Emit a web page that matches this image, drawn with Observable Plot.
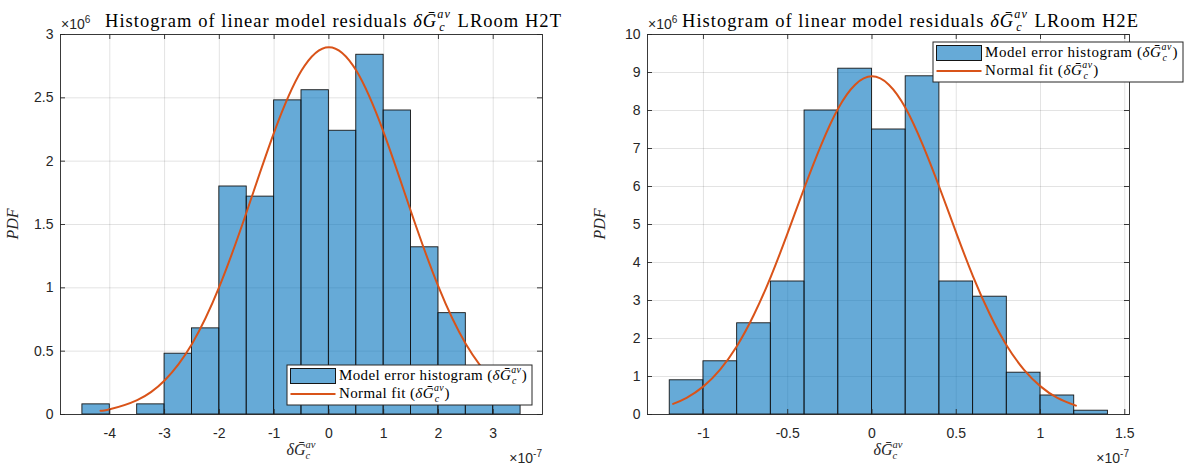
<!DOCTYPE html>
<html><head><meta charset="utf-8">
<script src="https://cdn.jsdelivr.net/npm/d3@7"></script>
<script src="https://cdn.jsdelivr.net/npm/@observablehq/plot@0.6"></script>
<style>
body{margin:0;background:#fff;}
#wrap{position:relative;width:1185px;height:466px;overflow:hidden;background:#fff;}
#wrap svg{position:absolute;top:0;overflow:visible;}
</style></head><body><div id="wrap"></div>
<script>
// ---------- data (x in units of 1e-7, pdf in units of 1e6) ----------
const h2tBinEdges = [-4.5,-4,-3.5,-3,-2.5,-2,-1.5,-1,-0.5,0,0.5,1,1.5,2,2.5,3,3.5];
const h2tPdf      = [0.08,0,0.08,0.48,0.68,1.80,1.72,2.48,2.56,2.24,2.84,2.40,1.32,0.80,0.32,0.20];
const h2tFitX     = [-4.17,-4,-3.5,-3,-2.5,-2,-1.5,-1,-0.5,0,0.5,1,1.5,2,2.5,3,3.4];
const h2tFitY     = [0.029,0.042,0.114,0.269,0.557,1.009,1.601,2.227,2.715,2.90,2.715,2.227,1.601,1.009,0.557,0.269,0.137];
const h2tXTicks   = [-4,-3,-2,-1,0,1,2,3];
const h2tYTicks   = [0,0.5,1,1.5,2,2.5,3];

const h2eBinEdges = [-1.2,-1.0,-0.8,-0.6,-0.4,-0.2,0,0.2,0.4,0.6,0.8,1.0,1.2,1.4];
const h2ePdf      = [0.9,1.4,2.4,3.5,8.0,9.1,7.5,8.9,3.5,3.1,1.1,0.5,0.1];
const h2eFitX     = [-1.18,-1.1,-1.0,-0.9,-0.8,-0.7,-0.6,-0.5,-0.4,-0.3,-0.2,-0.1,0,0.1,0.2,0.3,0.4,0.5,0.6,0.7,0.8,0.9,1.0,1.1,1.21];
const h2eFitY     = [0.279,0.439,0.740,1.19,1.81,2.63,3.63,4.78,5.98,7.11,8.06,8.68,8.9,8.68,8.06,7.11,5.98,4.78,3.63,2.63,1.81,1.19,0.740,0.439,0.233];
const h2eXTicks   = [-1,-0.5,0,0.5,1,1.5];
const h2eYTicks   = [0,1,2,3,4,5,6,7,8,9,10];

const titles = ["LRoom H2T", "LRoom H2E"];
const legendLabels = ["Model error histogram (", "Normal fit ("];

// ---------- styling ----------
const BAR = "#0072BD", FIT = "#D95319", INK = "#262626";
const SERIF = "'Liberation Serif','Times New Roman',serif";
const SANS = "'Liberation Sans',Arial,Helvetica,sans-serif";
const H = 466, MT = 34, MB = 52;

function panel({edges, pdf, fitX, fitY, xDomain, xTicks, yTicks, yDomain, width, ml, mr}) {
  const bins = pdf.map((v, i) => ({x1: edges[i], x2: edges[i + 1], y: v}));
  const fit = fitX.map((x, i) => ({x, y: fitY[i]}));
  const ph = H - MT - MB, pw = width - ml - mr;
  const fmt = d => String(d);
  return Plot.plot({
    width, height: H, marginLeft: ml, marginRight: mr, marginTop: MT, marginBottom: MB,
    x: {domain: xDomain, label: null},
    y: {domain: yDomain, label: null},
    style: {fontFamily: SANS, fontSize: "14px", color: INK, background: "transparent", overflow: "visible"},
    marks: [
      Plot.gridX(xTicks, {stroke: INK, strokeOpacity: 0.13, strokeWidth: 1}),
      Plot.gridY(yTicks, {stroke: INK, strokeOpacity: 0.13, strokeWidth: 1}),
      Plot.rectY(bins, {x1: "x1", x2: "x2", y: "y", inset: 0, fill: BAR, fillOpacity: 0.6, stroke: "#151515", strokeWidth: 0.9}),
      Plot.line(fit, {x: "x", y: "y", stroke: FIT, strokeWidth: 2, curve: "natural"}),
      Plot.frame({stroke: INK, strokeWidth: 0.9}),
      Plot.ruleX(xTicks, {insetTop: ph - 5, stroke: INK, strokeWidth: 0.9}),
      Plot.ruleX(xTicks, {insetBottom: ph - 5, stroke: INK, strokeWidth: 0.9}),
      Plot.ruleY(yTicks, {insetRight: pw - 5, stroke: INK, strokeWidth: 0.9}),
      Plot.ruleY(yTicks, {insetLeft: pw - 5, stroke: INK, strokeWidth: 0.9}),
      Plot.axisX(xTicks, {tickSize: 0, tickPadding: 14, tickFormat: fmt, label: null}),
      Plot.axisY(yTicks, {tickSize: 0, tickPadding: 7, tickFormat: fmt, label: null})
    ]
  });
}

// rich text with italic / stacked sub+superscripts; optional letter-spacing fit to a target width
function addText(parent, {x, y, size, family, anchor = "start", fill = "#000", segs, target, rotate}) {
  const t = parent.append("text").attr("font-family", family)
    .attr("font-size", size).attr("text-anchor", anchor).attr("fill", fill);
  if (rotate) t.attr("transform", `translate(${x},${y}) rotate(${rotate})`);
  else t.attr("x", x).attr("y", y);
  let pdx = 0, pdy = 0, n = 0;
  const add = (str, o = {}) => {
    const s = t.append("tspan").text(str).attr("font-style", o.it ? "italic" : "normal");
    if (o.size) s.attr("font-size", o.size);
    const dx = (o.dx || 0) + pdx, dy = (o.dy || 0) + pdy;
    if (dx) s.attr("dx", dx);
    if (dy) s.attr("dy", dy);
    pdx = 0; pdy = 0; n += [...str].length;
    return s;
  };
  for (const g of segs) {
    if (g.t !== undefined) add(g.t, {it: g.it});
    else if (g.sub !== undefined) {
      const up = size * 0.46, down = size * 0.24, ss = size * 0.66;
      const a = add(g.sup, {it: true, size: ss, dy: -up});
      const wa = a.node().getComputedTextLength();
      const c = add(g.sub, {it: true, size: ss, dx: -wa, dy: up + down});
      const wc = c.node().getComputedTextLength();
      pdx = Math.max(0, wa - wc); pdy = -down;
    } else if (g.sup !== undefined) {
      const up = size * 0.42;
      add(g.sup, {size: size * 0.72, dy: -up});
      pdy = up;
    }
  }
  if (target) {
    const w = t.node().getBBox().width;
    t.attr("letter-spacing", ((target - w) / n).toFixed(3));
  }
  return t;
}
const G = [{t: "δ", it: true}, {t: "Ḡ", it: true}, {sup: "av", sub: "c"}];

const wrap = document.getElementById("wrap");
const specs = [
  {edges: h2tBinEdges, pdf: h2tPdf, fitX: h2tFitX, fitY: h2tFitY, xDomain: [-4.9, 3.9], xTicks: h2tXTicks,
   yTicks: h2tYTicks, yDomain: [0, 3], width: 590, ml: 60, mr: 48, left: 0,
   titleX: 105, legend: {x: 287, y: 365, w: 245}},
  {edges: h2eBinEdges, pdf: h2ePdf, fitX: h2eFitX, fitY: h2eFitY, xDomain: [-1.332, 1.528], xTicks: h2eXTicks,
   yTicks: h2eYTicks, yDomain: [0, 10], width: 595, ml: 57, mr: 56, left: 590,
   titleX: 92, legend: {x: 343, y: 42, w: 250}}
];

specs.forEach((s, i) => {
  const svg = panel(s);
  svg.style.left = s.left + "px";
  wrap.appendChild(svg);
  const g = d3.select(svg).append("g");
  const x0 = s.ml, x1 = s.width - s.mr, cx = (x0 + x1) / 2;
  // exponent labels
  addText(g, {x: x0 + 1, y: 29, size: 14, family: SANS, fill: INK, segs: [{t: "×10"}, {sup: "6"}]});
  addText(g, {x: x1, y: 463, size: 14, family: SANS, fill: INK, anchor: "end", segs: [{t: "×10"}, {sup: "-7"}]});
  // title
  addText(g, {x: s.titleX, y: 27, size: 18.5, family: SERIF, target: 457,
    segs: [{t: "Histogram of linear model residuals "}, ...G, {t: " " + titles[i]}]});
  // axis labels
  addText(g, {x: cx, y: 455, size: 16, family: SERIF, anchor: "middle", fill: INK, segs: G});
  addText(g, {x: x0 - 42, y: MT + (H - MT - MB) / 2, size: 16, family: SERIF, anchor: "middle", fill: INK,
    rotate: -90, segs: [{t: "PDF", it: true}]});
  // legend
  const L = s.legend;
  g.append("rect").attr("x", L.x).attr("y", L.y).attr("width", L.w).attr("height", 40)
    .attr("fill", "#fff").attr("stroke", INK).attr("stroke-width", 1);
  g.append("rect").attr("x", L.x + 3.5).attr("y", L.y + 3.5).attr("width", 45).attr("height", 15)
    .attr("fill", BAR).attr("fill-opacity", 0.6).attr("stroke", "#151515").attr("stroke-width", 1);
  g.append("line").attr("x1", L.x + 3.5).attr("x2", L.x + 48.5).attr("y1", L.y + 29).attr("y2", L.y + 29)
    .attr("stroke", FIT).attr("stroke-width", 2);
  const r1 = addText(g, {x: L.x + 52, y: L.y + 15, size: 15, family: SERIF, target: L.w - 57,
    segs: [{t: legendLabels[0]}, ...G, {t: ")"}]});
  const ls = r1.attr("letter-spacing");
  addText(g, {x: L.x + 52, y: L.y + 33, size: 15, family: SERIF,
    segs: [{t: legendLabels[1]}, ...G, {t: ")"}]}).attr("letter-spacing", ls);
});
</script></body></html>
